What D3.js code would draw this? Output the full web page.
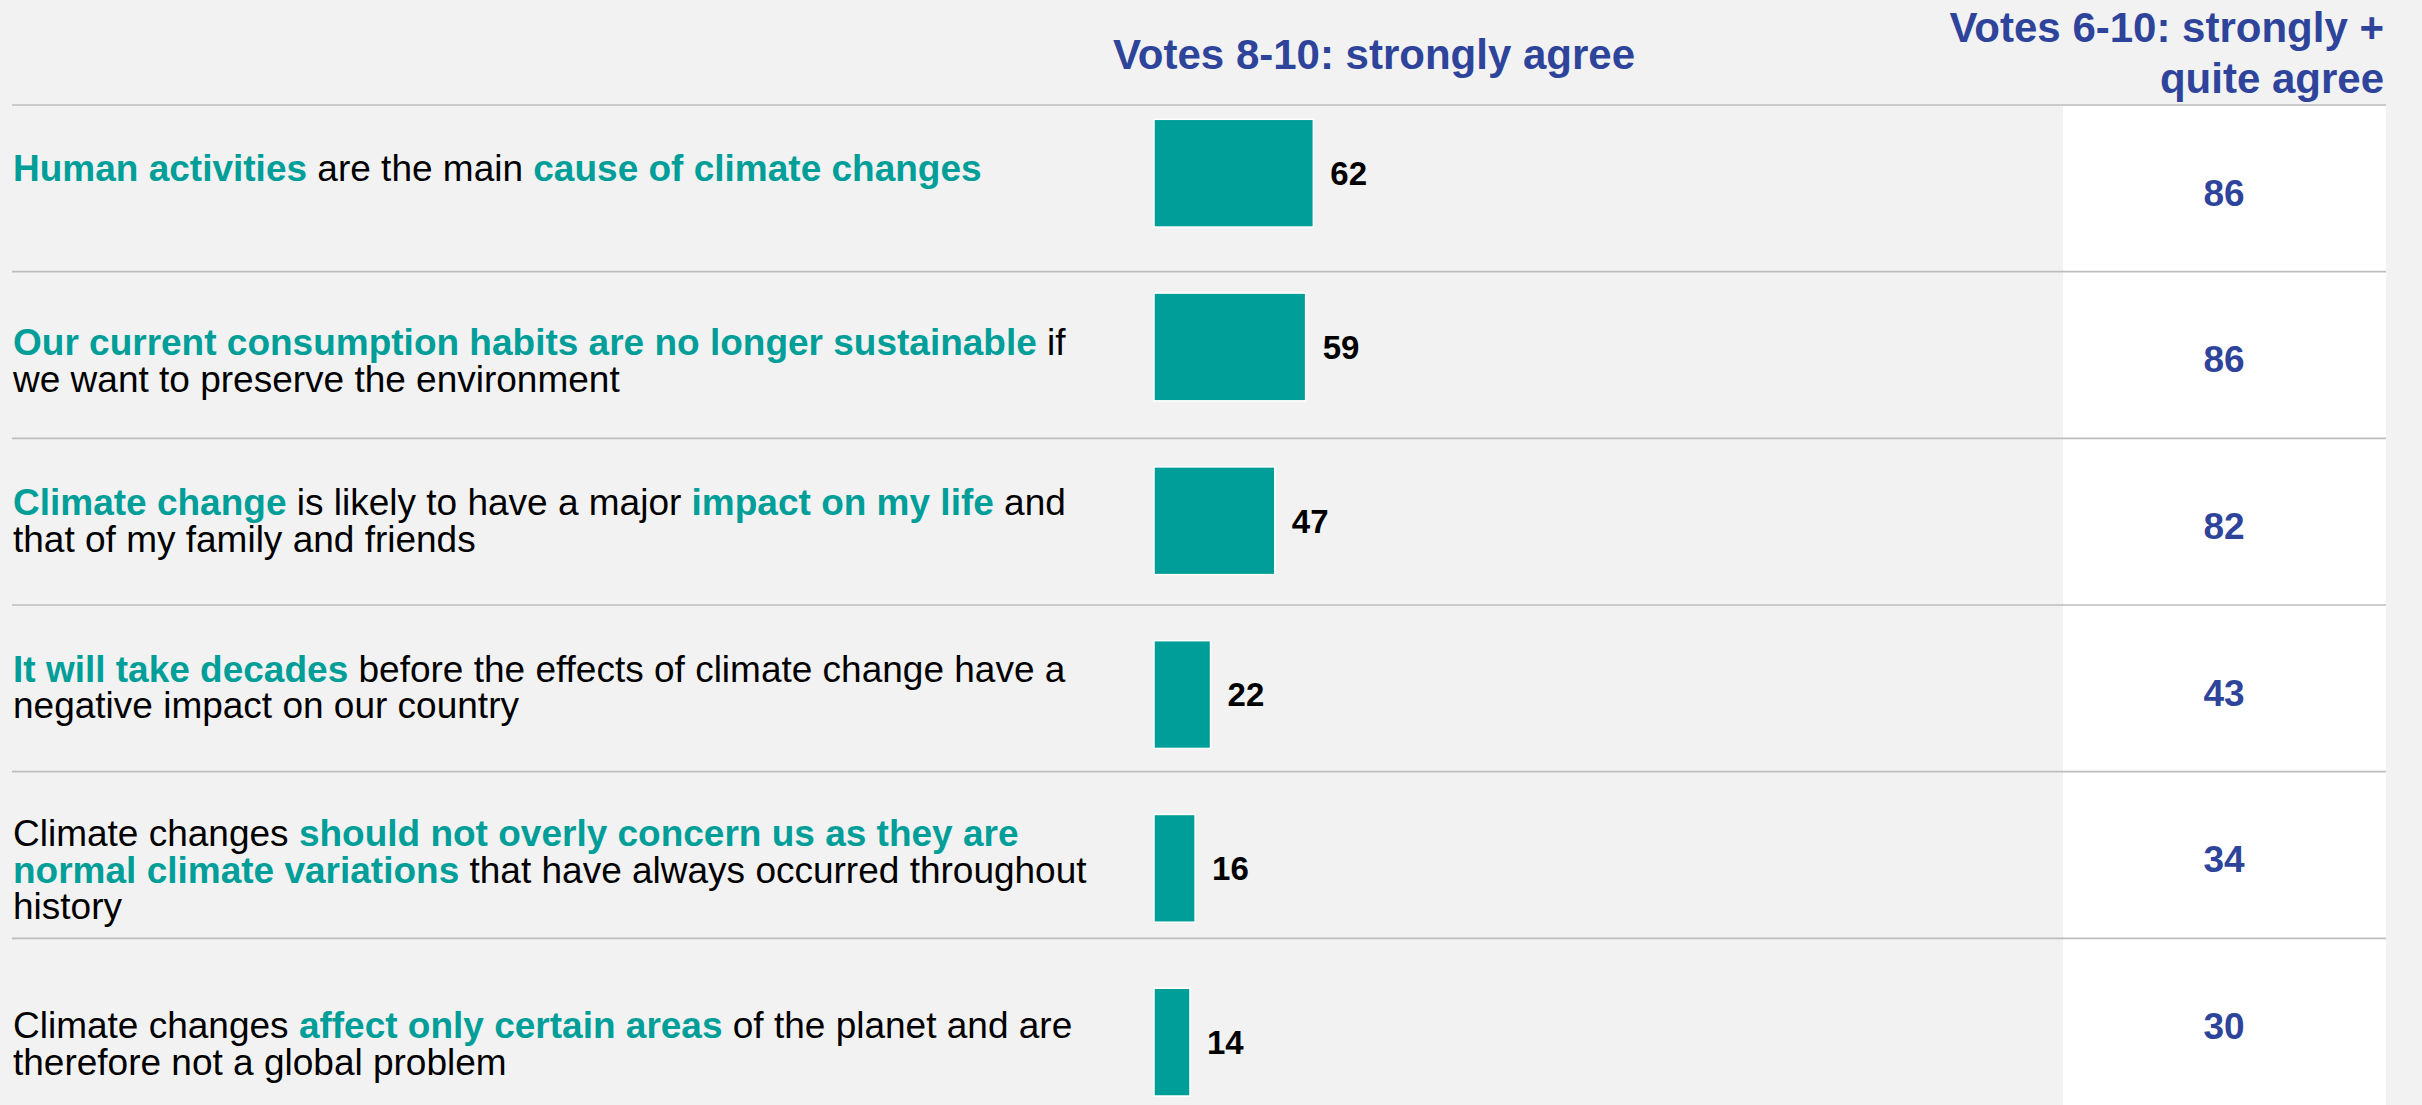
<!DOCTYPE html>
<html>
<head>
<meta charset="utf-8">
<script src="https://cdn.jsdelivr.net/npm/d3@7"></script>
<style>
  html, body { margin: 0; padding: 0; background: #f2f2f2; }
  svg { display: block; font-family: "Liberation Sans", Arial, sans-serif; }
  text { white-space: pre; }
</style>
</head>
<body>
<div id="chart"></div>
<script>
// statements: each line is a list of [text, highlighted]
const statements = [
  [[['Human activities', true], [' are the main ', false], ['cause of climate changes', true]]],
  [[['Our current consumption habits are no longer sustainable', true], [' if', false]],
   [['we want to preserve the environment', false]]],
  [[['Climate change', true], [' is likely to have a major ', false], ['impact on my life', true], [' and', false]],
   [['that of my family and friends', false]]],
  [[['It will take decades', true], [' before the effects of climate change have a', false]],
   [['negative impact on our country', false]]],
  [[['Climate changes ', false], ['should not overly concern us as they are', true]],
   [['normal climate variations', true], [' that have always occurred throughout', false]],
   [['history', false]]],
  [[['Climate changes ', false], ['affect only certain areas', true], [' of the planet and are', false]],
   [['therefore not a global problem', false]]]
];
const strongly = [62, 59, 47, 22, 16, 14];      // votes 8-10
const stronglyQuite = [86, 86, 82, 43, 34, 30]; // votes 6-10
const headerLeft = 'Votes 8-10: strongly agree';
const headerRight = ['Votes 6-10: strongly +', 'quite agree'];

const W = 2422, H = 1105;
const teal = '#009e99', blue = '#2e449b', grid = '#bdbdbd';
const textNudge = [-5, 14, 0, -7, 2, 2];

const svg = d3.select('#chart').append('svg')
  .attr('width', W).attr('height', H);

svg.append('rect').attr('width', W).attr('height', H).attr('fill', '#f2f2f2');

const rows = d3.scaleBand().domain(d3.range(statements.length)).range([105, H]);
const bands = d3.scaleBand().domain(d3.range(statements.length))
  .range([119.3, 1096]).paddingInner(0.38).paddingOuter(0);
const x = d3.scaleLinear().domain([0, 100]).range([1154, 1411]);

const colLeft = 2063, colRight = 2386;

// white column behind the 6-10 values
svg.append('rect')
  .attr('x', colLeft).attr('y', rows(0))
  .attr('width', colRight - colLeft).attr('height', H - rows(0))
  .attr('fill', '#ffffff');

// row separators
svg.append('g').selectAll('line')
  .data(d3.range(statements.length))
  .join('line')
  .attr('x1', 12).attr('x2', colRight)
  .attr('y1', i => rows(i)).attr('y2', i => rows(i))
  .attr('stroke', grid).attr('stroke-width', 1.6);

// headers
svg.append('text')
  .attr('x', 1374).attr('y', 69)
  .attr('text-anchor', 'middle')
  .attr('font-size', 42).attr('font-weight', 'bold').attr('fill', blue)
  .text(headerLeft);

svg.append('text')
  .attr('text-anchor', 'end')
  .attr('font-size', 42).attr('font-weight', 'bold').attr('fill', blue)
  .selectAll('tspan')
  .data(headerRight)
  .join('tspan')
  .attr('x', 2384)
  .attr('y', (d, i) => 42 + i * 51)
  .text(d => d);

// statements
const fs = 37, lh = 36.5, cap = 12.5;
statements.forEach((lines, i) => {
  const cy = bands(i) + bands.bandwidth() / 2 + textNudge[i];
  const y0 = cy - (lines.length - 1) * lh / 2 + cap;
  const t = svg.append('text').attr('font-size', fs);
  lines.forEach((segs, j) => {
    segs.forEach(([txt, hi], k) => {
      const ts = t.append('tspan')
        .attr('font-weight', hi ? 'bold' : 'normal')
        .attr('fill', hi ? teal : '#000000')
        .text(txt);
      if (k === 0) ts.attr('x', 13).attr('y', y0 + j * lh);
    });
  });
});

// bars
svg.append('g').selectAll('rect')
  .data(strongly)
  .join('rect')
  .attr('x', x(0))
  .attr('y', (d, i) => bands(i))
  .attr('width', d => x(d) - x(0))
  .attr('height', bands.bandwidth())
  .attr('fill', teal)
  .attr('stroke', '#ffffff').attr('stroke-width', 1.5);

svg.append('g').selectAll('text')
  .data(strongly)
  .join('text')
  .attr('x', d => x(d) + 17)
  .attr('y', (d, i) => bands(i) + bands.bandwidth() / 2)
  .attr('dy', '0.36em')
  .attr('font-size', 33).attr('font-weight', 'bold').attr('fill', '#000000')
  .text(d => d);

// 6-10 values
svg.append('g').selectAll('text')
  .data(stronglyQuite)
  .join('text')
  .attr('x', 2224)
  .attr('y', (d, i) => rows(i) + rows.bandwidth() / 2 + 4)
  .attr('dy', '0.36em')
  .attr('text-anchor', 'middle')
  .attr('font-size', 37).attr('font-weight', 'bold').attr('fill', blue)
  .text(d => d);
</script>
</body>
</html>
